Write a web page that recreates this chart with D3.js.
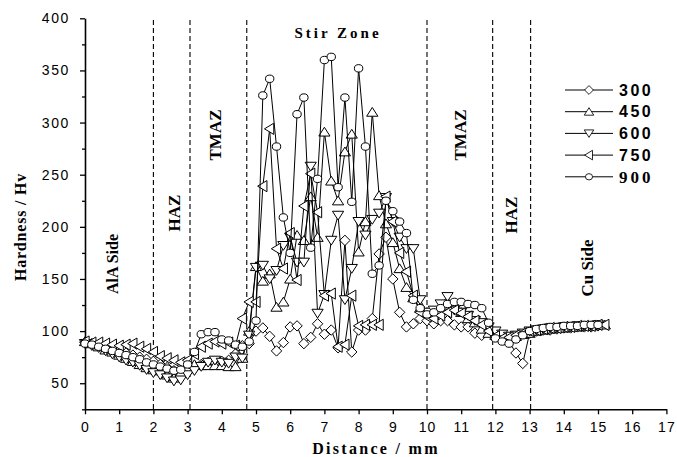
<!DOCTYPE html>
<html>
<head>
<meta charset="utf-8">
<script src="https://cdn.jsdelivr.net/npm/d3@7"></script>
<style>
  body { margin: 0; background: #fff; }
  svg { display: block; }
</style>
</head>
<body>
<svg id="chart" width="677" height="457"></svg>
<script>
// distance along the weld (mm)
const distance = [0, 0.2, 0.4, 0.6, 0.8, 1, 1.2, 1.4, 1.6, 1.8, 2, 2.2, 2.4, 2.6, 2.8, 3, 3.2, 3.4, 3.6, 3.8,
  4, 4.2, 4.4, 4.6, 4.8, 5, 5.2, 5.4, 5.6, 5.8, 6, 6.2, 6.4, 6.6, 6.8, 7, 7.2, 7.4, 7.6, 7.8,
  8, 8.2, 8.4, 8.6, 8.8, 9, 9.2, 9.4, 9.6, 9.8, 10, 10.2, 10.4, 10.6, 10.8, 11, 11.2, 11.4, 11.6, 11.8,
  12, 12.2, 12.4, 12.6, 12.8, 13, 13.2, 13.4, 13.6, 13.8, 14, 14.2, 14.4, 14.6, 14.8, 15, 15.2];

// hardness (Hv) per rotation speed
const hv300 = [89, 88, 86, 84, 83, 81, 79, 77, 75, 73, 71,
  68, 65, 62, 61, 61, 66, 68, 70, 70, 71, 72, 78, 86,
  88, 100, 103, 95, 81, 89, 104, 105, 88, 94, 107, 97, 101, 84, 187, 80, 101, 101, 112, 174, 190, 150, 118, 104, 107, 112,
  110, 107, 110, 110, 106, 104, 104, 98, 96, 100, 96,
  94, 90, 79, 69, 98, 100, 101, 101, 102, 103, 103, 104, 104, 104, 105];
const hv450 = [90, 88, 85, 82, 80, 77, 74, 71, 68, 65, 63,
  62, 58, 55, 60, 64, 68, 67, 67, 67, 67, 66, 66, 74,
  100, 162, 148, 155, 123, 128, 150, 192, 187, 229, 190, 291, 244, 225, 272, 289, 176, 205, 310, 230, 203, 185, 160, 142, 132, 122,
  118, 115, 120, 125, 123, 118, 112, 108, 102, 98, 96,
  94, 93, 95, 97, 98, 100, 101, 102, 103, 103, 104, 104, 105, 105, 106, 106];
const hv600 = [88, 86, 84, 81, 78, 75, 72, 70, 67, 63, 60,
  58, 55, 52, 53, 58, 62, 66, 70, 72, 70, 69, 75, 74,
  96, 161, 163, 150, 158, 182, 190, 166, 166, 258, 117, 135, 187, 211, 130, 160, 205, 192, 207, 213, 228, 205, 190, 179, 179, 130,
  118, 120, 126, 133, 120, 118, 115, 110, 108, 104, 100,
  97, 95, 96, 98, 100, 101, 102, 103, 103, 104, 104, 105, 105, 105, 106];
const hv750 = [90, 89, 89, 88, 87, 86, 87, 88, 85, 83, 80,
  76, 74, 72, 70, 72, 78, 85, 88, 90, 88, 89, 86, 112,
  128, 128, 239, 294, 179, 160, 194, 149, 220, 251, 214, 134, 136, 85, 87, 134, 105, 106, 106, 106, 229, 205, 175, 157, 134, 118,
  114, 112, 115, 118, 120, 117, 114, 110, 106, 100, 95,
  93, 94, 96, 98, 100, 101, 102, 103, 103, 104, 104, 105, 105, 105, 106, 106];
const hv900 = [88, 87, 85, 83, 81, 79, 77, 75, 73, 70, 68,
  66, 64, 62, 63, 68, 80, 97, 99, 99, 92, 91, 87, 85,
  90, 110, 326, 342, 277, 209, 175, 308, 324, 180, 246, 360, 363, 238, 324, 224, 352, 277, 155, 163, 225, 215, 205, 194, 130, 122,
  116, 118, 122, 126, 128, 128, 126, 125, 122, 108, 93,
  90, 88, 92, 96, 100, 102, 103, 104, 104, 105, 105, 105, 106, 106, 106];

const speeds = ["300", "450", "600", "750", "900"];
const zoneLines = [2, 3.07, 4.73, 10, 11.92, 13.03];
const xTicks = [0, 1, 2, 3, 4, 5, 6, 7, 8, 9, 10, 11, 12, 13, 14, 15, 16, 17];
const yTicks = [50, 100, 150, 200, 250, 300, 350, 400];
const yMinor = [25, 75, 125, 175, 225, 275, 325, 375];

const serif = "'Liberation Serif', 'Times New Roman', serif";
const sans = "'Liberation Sans', Arial, sans-serif";

const svg = d3.select("#chart");

const x = d3.scaleLinear().domain([0, 17]).range([85, 666.4]);
const y = d3.scaleLinear().domain([25, 400]).range([409.3, 18.3]);

// marker shapes
const shapes = {
  diamond: "M0,-5.2L5.2,0L0,5.2L-5.2,0Z",
  up: "M0,-4.7L5.6,4.1L-5.6,4.1Z",
  down: "M0,4.7L5.6,-4.1L-5.6,-4.1Z",
  left: "M-5.2,0L4.1,-5.6L4.1,5.6Z",
  circle: "M-4.2,0A4.2,3.7 0 1,0 4.2,0A4.2,3.7 0 1,0 -4.2,0Z"
};

const series = [
  { name: speeds[0], values: hv300, shape: shapes.diamond },
  { name: speeds[1], values: hv450, shape: shapes.up },
  { name: speeds[2], values: hv600, shape: shapes.down },
  { name: speeds[3], values: hv750, shape: shapes.left },
  { name: speeds[4], values: hv900, shape: shapes.circle }
];

// zone boundaries
svg.append("g").selectAll("line")
  .data(zoneLines)
  .enter().append("line")
  .attr("x1", d => x(d)).attr("x2", d => x(d))
  .attr("y1", 20).attr("y2", y(25))
  .attr("stroke", "#000").attr("stroke-width", 1.1)
  .attr("stroke-dasharray", "5,3");

// axes
const xAxis = svg.append("g")
  .attr("transform", `translate(0,${y(25)})`)
  .call(d3.axisBottom(x).tickValues(xTicks).tickSize(5).tickSizeOuter(0).tickPadding(8));
xAxis.selectAll("text")
  .style("font-family", sans).style("font-size", "14px").style("letter-spacing", "1px").attr("fill", "#000");

const yAxis = svg.append("g")
  .attr("transform", `translate(${x(0)},0)`)
  .call(d3.axisLeft(y).tickValues(yTicks).tickSize(5).tickSizeOuter(0).tickPadding(10));
yAxis.selectAll("text")
  .style("font-family", sans).style("font-size", "14px").style("letter-spacing", "1.6px").attr("fill", "#000");

svg.append("g")
  .attr("transform", `translate(${x(0)},0)`)
  .call(d3.axisLeft(y).tickValues(yMinor).tickSize(3).tickSizeOuter(0).tickFormat(""))
  .select(".domain").remove();

svg.selectAll(".domain").attr("stroke-width", 1.6);
svg.selectAll(".tick line").attr("stroke-width", 1.3);

// series
const line = d3.line()
  .x((d, i) => x(distance[i]))
  .y(d => y(d));

series.forEach(s => {
  const g = svg.append("g");
  g.append("path")
    .datum(s.values)
    .attr("d", line)
    .attr("fill", "none")
    .attr("stroke", "#000")
    .attr("stroke-width", 1);
  g.selectAll("path.mk")
    .data(s.values)
    .enter().append("path")
    .attr("class", "mk")
    .attr("d", s.shape)
    .attr("transform", (d, i) => `translate(${x(distance[i])},${y(d)})`)
    .attr("fill", "#fff")
    .attr("stroke", "#000")
    .attr("stroke-width", 1);
});

// legend
const legend = svg.append("g");
series.forEach((s, i) => {
  const ly = 90 + i * 21.7;
  legend.append("line")
    .attr("x1", 565).attr("x2", 613).attr("y1", ly).attr("y2", ly)
    .attr("stroke", "#000").attr("stroke-width", 1);
  legend.append("path")
    .attr("d", s.shape)
    .attr("transform", `translate(589,${ly}) scale(0.85)`)
    .attr("fill", "#fff").attr("stroke", "#000").attr("stroke-width", 1);
  const isSerif = s.name === "900";
  legend.append("text")
    .attr("x", 619).attr("y", ly).attr("dy", "0.36em")
    .style("font-family", isSerif ? serif : sans)
    .style("font-weight", "bold")
    .style("font-size", isSerif ? "17px" : "16px")
    .style("letter-spacing", isSerif ? "3px" : "2.5px")
    .text(s.name);
});

// zone labels
svg.append("text")
  .attr("x", 338).attr("y", 38)
  .attr("text-anchor", "middle")
  .style("font-family", serif).style("font-weight", "bold")
  .style("font-size", "15px").style("letter-spacing", "3px")
  .text("Stir Zone");

const zoneLabels = [
  { text: "AlA Side", cx: 112, cy: 264, size: 16 },
  { text: "HAZ", cx: 174, cy: 213, size: 17 },
  { text: "TMAZ", cx: 215, cy: 135, size: 17 },
  { text: "TMAZ", cx: 460, cy: 135, size: 17 },
  { text: "HAZ", cx: 511, cy: 215, size: 17 },
  { text: "Cu Side", cx: 587, cy: 268, size: 17 }
];
svg.append("g").selectAll("text")
  .data(zoneLabels)
  .enter().append("text")
  .attr("transform", d => `translate(${d.cx},${d.cy}) rotate(-90)`)
  .attr("text-anchor", "middle")
  .attr("dy", "0.35em")
  .style("font-family", serif).style("font-weight", "bold")
  .style("font-size", d => d.size + "px")
  .text(d => d.text);

// axis titles
svg.append("text")
  .attr("x", 376).attr("y", 454)
  .attr("text-anchor", "middle")
  .style("font-family", serif).style("font-weight", "bold")
  .style("font-size", "16px").style("letter-spacing", "2.3px")
  .text("Distance / mm");

svg.append("text")
  .attr("transform", "translate(20,227) rotate(-90)")
  .attr("text-anchor", "middle")
  .attr("dy", "0.35em")
  .style("font-family", serif).style("font-weight", "bold")
  .style("font-size", "16px").style("letter-spacing", "0.8px")
  .text("Hardness / Hv");
</script>
</body>
</html>
